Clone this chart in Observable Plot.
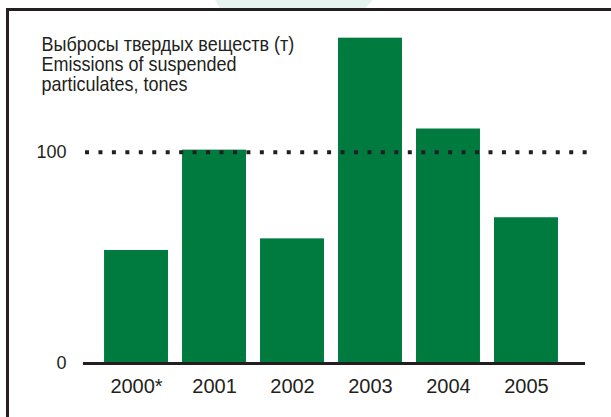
<!DOCTYPE html>
<html>
<head>
<meta charset="utf-8">
<script src="https://cdn.jsdelivr.net/npm/d3@7"></script>
<script src="https://cdn.jsdelivr.net/npm/@observablehq/plot@0.6"></script>
<style>
  html, body { margin: 0; padding: 0; background: #fff; }
  #wrap { position: relative; width: 611px; height: 417px; overflow: hidden; }
  #wrap svg { position: absolute; left: 0; top: 0; }
  #frame { position: absolute; left: 6px; top: 8px; right: -10px; bottom: -10px;
           border-left: 3px solid #231f20; border-top: 3px solid #231f20; }
  #deco { position: absolute; left: 215px; top: 0; width: 158px; height: 8px; background: #e6f3ee;
          clip-path: polygon(0 0, 100% 0, 95% 100%, 3% 100%); }
</style>
</head>
<body>
<div id="wrap"><div id="deco"></div><div id="frame"></div></div>
<script>
const years = ["2000*", "2001", "2002", "2003", "2004", "2005"];
const emissions = [53.5, 101, 59, 154, 111, 69];
const yTicks = [0, 100];
const refValue = [100];
const titleLines = ["Выбросы твердых веществ (т)", "Emissions of suspended", "particulates, tones"];

const data = years.map((y, i) => ({year: y, value: emissions[i]}));
const green = "#007b40";
const ink = "#231f20";
const font = "'Liberation Sans', Arial, Helvetica, sans-serif";

const chart = Plot.plot({
  width: 611,
  height: 417,
  marginLeft: 90,
  marginRight: 39,
  marginTop: 25,
  marginBottom: 54,
  style: {fontFamily: font, color: "#231f20", background: "transparent"},
  x: {domain: years, padding: 0.18, round: false, label: null},
  y: {domain: [0, 160], label: null},
  marks: [
    Plot.barY(data, {x: "year", y: "value", fill: green}),
    Plot.ruleY(refValue, {stroke: ink, strokeWidth: 4, strokeDasharray: "4,9.45", insetLeft: -5, insetRight: -16}),
    Plot.ruleY([0], {stroke: ink, strokeWidth: 3, insetLeft: -7, insetRight: -13}),
    Plot.axisY({ticks: yTicks, tickSize: 0, tickPadding: 24, fontSize: 18, tickFormat: d => String(d)}),
    Plot.axisX({tickSize: 0, tickPadding: 15, fontSize: 20}),
    Plot.text([titleLines.join("\n")], {
      frameAnchor: "top-left", textAnchor: "start", lineAnchor: "top",
      dx: -49, dy: 11, fontSize: 20, lineHeight: 1.0, fill: ink
    })
  ]
});
// condense the title glyphs horizontally (the original uses a condensed typeface)
d3.select(chart).selectAll('g[aria-label="text"] text').each(function() {
  const t = this.getAttribute("transform") || "";
  this.setAttribute("transform", (t + " scale(0.9,1)").trim());
});
document.getElementById("wrap").insertBefore(chart, document.getElementById("deco"));
</script>
</body>
</html>
